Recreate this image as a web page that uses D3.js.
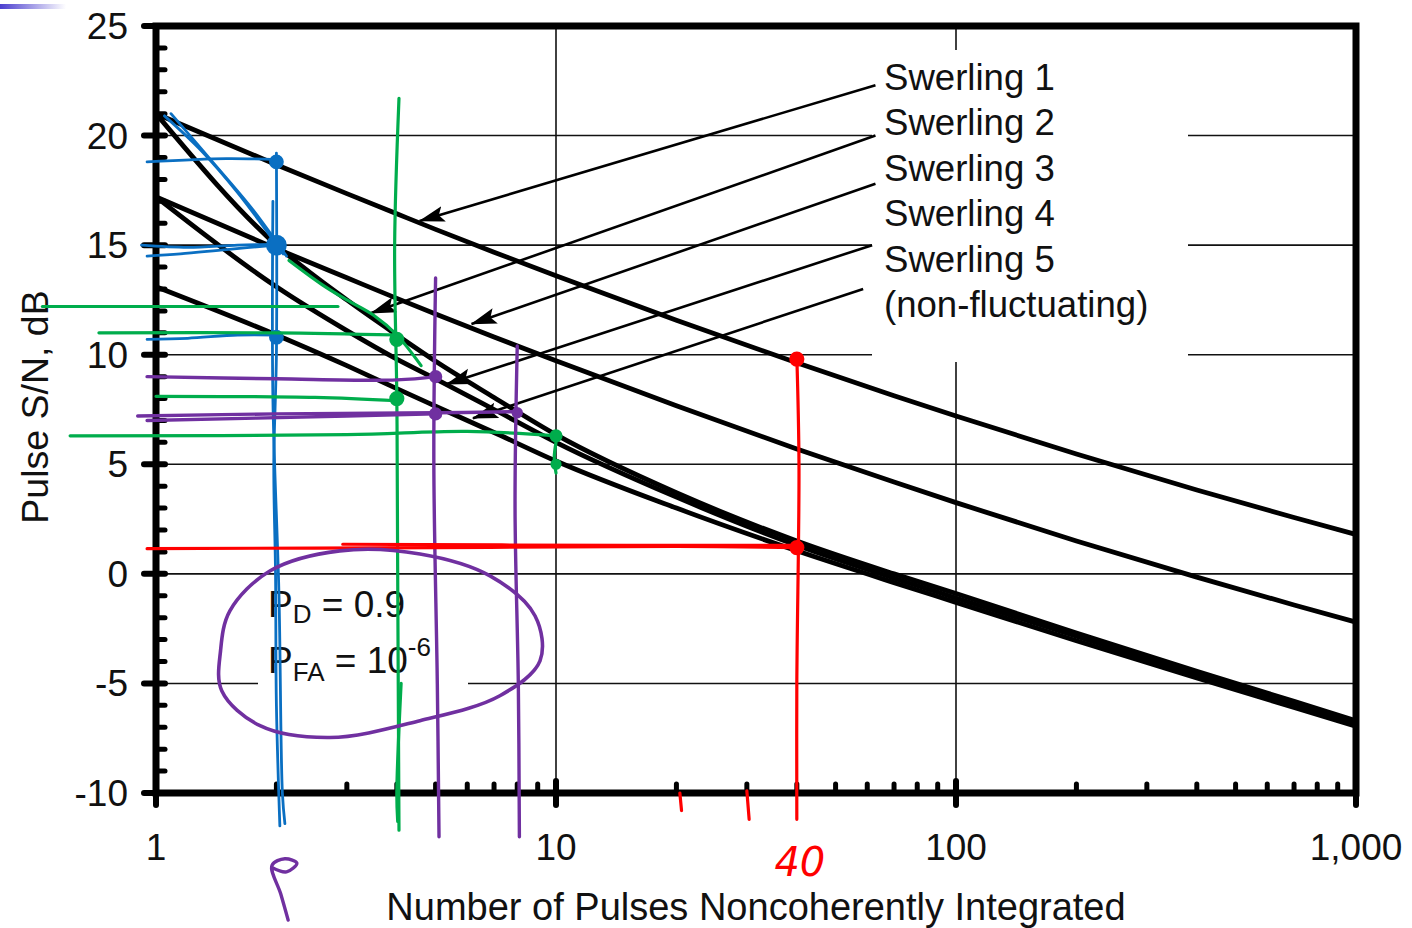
<!DOCTYPE html>
<html>
<head>
<meta charset="utf-8">
<script src="https://cdn.jsdelivr.net/npm/d3@7"></script>
<style>
  body { margin: 0; background: #fff; }
  svg { display: block; font-family: "Liberation Sans", Arial, sans-serif; }
</style>
</head>
<body>
<svg id="chart" width="1412" height="928"></svg>
<script>

    // number of pulses and required pulse S/N (dB)
    const pulses = [1, 2, 3, 4, 5, 7, 10, 20, 40, 70, 100, 200, 400, 700, 1000];
    const swerling1 = [21.0, 18.67, 17.35, 16.43, 15.72, 14.68, 13.6, 11.57, 9.63, 8.13, 7.2, 5.47, 3.83, 2.57, 1.8];
    const swerling2 = [21.0, 15.0, 12.5, 10.9, 9.7, 8.05, 6.35, 3.7, 1.5, 0.0, -0.9, -2.7, -4.45, -5.82, -6.7];
    const swerling3 = [17.2, 14.84, 13.51, 12.57, 11.86, 10.81, 9.72, 7.67, 5.7, 4.19, 3.25, 1.5, -0.15, -1.42, -2.2];
    const swerling4 = [17.2, 13.1, 11.1, 9.8, 8.9, 7.5, 6.0, 3.5, 1.3, -0.2, -1.1, -2.85, -4.6, -5.95, -6.82];
    const swerling5 = [13.1, 10.9, 9.5, 8.45, 7.65, 6.45, 5.15, 3.0, 1.05, -0.4, -1.3, -3.05, -4.75, -6.1, -6.95];

    const yTicks = [-10, -5, 0, 5, 10, 15, 20, 25];
    const xTicks = [1, 10, 100, 1000];
    const legendLabels = ["Swerling 1", "Swerling 2", "Swerling 3", "Swerling 4", "Swerling 5", "(non-fluctuating)"];

    // arrows from the labels to the curves: [N, dB]
    const arrowTails = [[62.9, 22.3], [62.9, 20.0], [62.9, 17.8], [61.7, 15.0], [58.6, 13.0]];
    const arrowTips = [[4.56, 16.1], [3.45, 11.9], [6.15, 11.4], [5.33, 8.66], [6.2, 7.1]];

    // hand drawn marks over the chart, [N, dB]
    const blueStrokes = [
        [[1.05, 20.9], [1.3, 19.3], [1.6, 17.4], [2.08, 14.6]],
        [[1.09, 21.0], [1.4, 18.7], [1.75, 16.6], [2.12, 14.5]],
        [[0.95, 18.8], [1.5, 18.95], [2.0, 18.9]],
        [[0.92, 15.0], [1.2, 14.9], [1.6, 15.0], [2.05, 15.05]],
        [[0.95, 14.5], [1.15, 14.6], [1.5, 14.8], [2.0, 15.0]],
        [[0.95, 10.7], [1.2, 10.75], [1.6, 10.9], [2.0, 10.9]],
        [[2.0, 19.2], [2.0, 10.0], [1.97, 5.0], [1.99, 0.0], [2.0, -6.0], [2.04, -11.5]],
        [[1.96, 17.0], [1.96, 8.0], [2.03, -1.0], [2.07, -10.0], [2.1, -11.4]]
    ];
    const blueDots = [[2, 18.8, 6], [2, 15.0, 9], [2, 10.8, 6]];

    const greenStrokes = [
        [[0.52, 12.2], [1.5, 12.2], [2.85, 12.2]],
        [[2.15, 14.3], [2.6, 13.2], [3.0, 12.5], [3.5, 11.8], [4.0, 10.9], [4.6, 9.5]],
        [[0.72, 11.0], [2.0, 11.0], [4.0, 10.9]],
        [[1.0, 8.1], [2.5, 8.05], [4.0, 7.9]],
        [[0.61, 6.3], [3.0, 6.35], [6.0, 6.5], [10.0, 6.3]],
        [[4.05, 21.7], [3.95, 15.0], [4.0, 8.0], [4.02, 0.0], [4.05, -11.7]],
        [[4.1, -5.0], [4.0, -10.0], [4.02, -11.3]],
        [[10.0, 6.0], [9.9, 5.3], [10.0, 4.6]]
    ];
    const greenDots = [[4, 10.7, 6], [4, 8.0, 6], [10, 6.3, 5], [10, 5.0, 4]];

    const purpleStrokes = [
        [[0.95, 9.0], [2.0, 8.9], [4.0, 8.85], [5.0, 9.0]],
        [[0.9, 7.2], [2.0, 7.3], [5.0, 7.35], [8.0, 7.4]],
        [[0.95, 7.0], [3.0, 7.2], [5.0, 7.3]],
        [[5.0, 13.5], [4.95, 5.0], [5.05, -5.0], [5.1, -12.0]],
        [[8.0, 10.4], [7.9, 3.0], [8.05, -5.0], [8.1, -12.0]],
        [[2.14, -15.8], [2.05, -14.6], [1.95, -13.3], [2.1, -13.0], [2.25, -13.2], [2.12, -13.6], [1.95, -13.4]]
    ];
    const purpleLoop = [[1.53, -1.69], [1.93, 0.14], [2.88, 1.05], [4.57, 0.91], [6.84, -0.09], [8.86, -1.91],
        [9.12, -3.97], [7.24, -5.56], [4.57, -6.7], [2.72, -7.47], [1.82, -6.93], [1.46, -5.33], [1.45, -3.51]];
    const purpleDots = [[5, 9.0, 5], [5, 7.3, 5], [8, 7.35, 4]];

    const redStrokes = [
        [[0.95, 1.15], [5.0, 1.2], [20.0, 1.25], [40.0, 1.2]],
        [[2.93, 1.35], [15.0, 1.3], [40.0, 1.3]],
        [[40.0, 9.9], [40.5, 5.0], [40.0, -5.0], [40.0, -11.2]],
        [[20.4, -10.0], [20.6, -10.8]],
        [[30.0, -9.9], [30.4, -11.2]]
    ];
    const redDots = [[40, 9.8, 6], [40, 1.2, 6]];

    const svg = d3.select("#chart");

    const x = d3.scaleLog().domain([1, 1000]).range([156, 1356]);
    const y = d3.scaleLinear().domain([-10, 25]).range([793, 26]);

    // slide decoration in the top left corner
    const defs = svg.append("defs");
    const grad = defs.append("linearGradient").attr("id", "bar");
    grad.append("stop").attr("offset", "0%").attr("stop-color", "#4b3fcf");
    grad.append("stop").attr("offset", "100%").attr("stop-color", "#ffffff");
    svg.append("rect").attr("x", 0).attr("y", 4).attr("width", 66).attr("height", 5).attr("fill", "url(#bar)");

    const marker = defs.append("marker")
        .attr("id", "head").attr("markerUnits", "userSpaceOnUse")
        .attr("viewBox", "0 -9 26 18").attr("markerWidth", 26).attr("markerHeight", 18)
        .attr("refX", 25).attr("refY", 0).attr("orient", "auto");
    marker.append("path").attr("d", "M0,-8L26,0L0,8L5,0Z").attr("fill", "#000");

    // grid
    const grid = svg.append("g").attr("stroke", "#111").attr("stroke-width", 1.6);
    grid.selectAll(".h").data(yTicks.filter(d => d > -10 && d < 25)).enter().append("line")
        .attr("x1", x(1)).attr("x2", x(1000)).attr("y1", d => y(d)).attr("y2", d => y(d));
    grid.selectAll(".v").data([10, 100]).enter().append("line")
        .attr("x1", d => x(d)).attr("x2", d => x(d)).attr("y1", y(25)).attr("y2", y(-10));

    // white boxes behind the texts
    svg.append("rect").attr("x", 872).attr("y", 50).attr("width", 316).attr("height", 312).attr("fill", "#fff");
    svg.append("rect").attr("x", 258).attr("y", 578).attr("width", 210).attr("height", 115).attr("fill", "#fff");

    // curves
    const curve = d3.line().x((d, i) => x(pulses[i])).y(d => y(d)).curve(d3.curveMonotoneX);
    svg.append("g").attr("fill", "none").attr("stroke", "#000").attr("stroke-width", 4.8)
        .attr("stroke-linejoin", "round")
        .selectAll("path").data([swerling1, swerling2, swerling3, swerling4, swerling5]).enter()
        .append("path").attr("d", curve);

    // arrows
    svg.append("g").selectAll("line").data(arrowTips).enter().append("line")
        .attr("x1", (d, i) => x(arrowTails[i][0])).attr("y1", (d, i) => y(arrowTails[i][1]))
        .attr("x2", d => x(d[0])).attr("y2", d => y(d[1]))
        .attr("stroke", "#000").attr("stroke-width", 2.6).attr("marker-end", "url(#head)");

    // frame and ticks
    const frame = svg.append("g").attr("stroke", "#000").attr("stroke-linecap", "round");
    frame.append("rect").attr("x", x(1)).attr("y", y(25)).attr("width", x(1000) - x(1)).attr("height", y(-10) - y(25))
        .attr("fill", "none").attr("stroke-width", 7).attr("stroke-linecap", "butt");
    frame.selectAll(".ymaj").data(yTicks).enter().append("line")
        .attr("x1", x(1) - 12).attr("x2", x(1) + 9).attr("y1", d => y(d)).attr("y2", d => y(d)).attr("stroke-width", 6);
    frame.selectAll(".ymin").data(d3.range(-9, 25).filter(d => d % 5 !== 0)).enter().append("line")
        .attr("x1", x(1)).attr("x2", x(1) + 9).attr("y1", d => y(d)).attr("y2", d => y(d)).attr("stroke-width", 5);
    frame.selectAll(".xmaj").data(xTicks).enter().append("line")
        .attr("x1", d => x(d)).attr("x2", d => x(d)).attr("y1", y(-10) - 12).attr("y2", y(-10) + 12).attr("stroke-width", 6);
    const minors = [];
    [1, 10, 100].forEach(dec => d3.range(2, 10).forEach(k => minors.push(dec * k)));
    frame.selectAll(".xmin").data(minors).enter().append("line")
        .attr("x1", d => x(d)).attr("x2", d => x(d)).attr("y1", y(-10)).attr("y2", y(-10) - 9).attr("stroke-width", 5);

    // tick labels
    svg.append("g").attr("font-size", 37).attr("fill", "#111").attr("text-anchor", "end")
        .selectAll("text").data(yTicks).enter().append("text")
        .attr("x", 128).attr("y", d => y(d) + 13).text(d => d);
    svg.append("g").attr("font-size", 37).attr("fill", "#111").attr("text-anchor", "middle")
        .selectAll("text").data(xTicks).enter().append("text")
        .attr("x", d => x(d)).attr("y", 860).text(d3.format(","));

    // axis titles
    svg.append("text").attr("x", 756).attr("y", 920).attr("text-anchor", "middle")
        .attr("font-size", 38).attr("fill", "#111").text("Number of Pulses Noncoherently Integrated");
    svg.append("text").attr("transform", "translate(48,407) rotate(-90)").attr("text-anchor", "middle")
        .attr("font-size", 37.5).attr("fill", "#111").text("Pulse S/N, dB");

    // curve labels
    svg.append("g").attr("font-size", 36.6).attr("fill", "#111")
        .selectAll("text").data(legendLabels).enter().append("text")
        .attr("x", 884).attr("y", (d, i) => 90 + i * 45.4).text(d => d);

    // P_D and P_FA
    const pd = svg.append("text").attr("x", 268).attr("y", 617).attr("font-size", 37).attr("fill", "#111");
    pd.append("tspan").text("P");
    pd.append("tspan").attr("font-size", 26).attr("dy", 6).text("D");
    pd.append("tspan").attr("dy", -6).text(" = 0.9");
    const pfa = svg.append("text").attr("x", 268).attr("y", 673).attr("font-size", 37).attr("fill", "#111");
    pfa.append("tspan").text("P");
    pfa.append("tspan").attr("font-size", 26).attr("dy", 8).text("FA");
    pfa.append("tspan").attr("dy", -8).text(" = 10");
    pfa.append("tspan").attr("font-size", 26).attr("dy", -17).text("-6");

    // hand drawn annotations
    const pen = d3.line().x(d => x(d[0])).y(d => y(d[1])).curve(d3.curveCatmullRom);
    const ink = svg.append("g").attr("fill", "none").attr("stroke-linecap", "round").attr("stroke-linejoin", "round");

    function drawInk(strokes, dots, color, width) {
        const g = ink.append("g").attr("stroke", color).attr("stroke-width", width);
        g.selectAll("path").data(strokes).enter().append("path").attr("d", pen);
        g.selectAll("circle").data(dots).enter().append("circle")
            .attr("cx", d => x(d[0])).attr("cy", d => y(d[1])).attr("r", d => d[2]).attr("fill", color);
    }
    drawInk(blueStrokes, blueDots, "#0a6fc2", 2.8);
    drawInk(greenStrokes, greenDots, "#00ad4c", 3.2);
    drawInk(purpleStrokes, purpleDots, "#7030a0", 3.4);
    drawInk(redStrokes, redDots, "#ff0000", 3.2);

    ink.append("path").datum(purpleLoop)
        .attr("d", d3.line().x(d => x(d[0])).y(d => y(d[1])).curve(d3.curveCatmullRomClosed))
        .attr("stroke", "#7030a0").attr("stroke-width", 3.6);

    svg.append("text").attr("x", x(40.7)).attr("y", y(-13.8)).attr("text-anchor", "middle")
        .attr("font-size", 40).attr("font-style", "italic").attr("fill", "#ff0000")
        .attr("font-family", "DejaVu Sans").attr("font-weight", 200).text("40");

</script>
</body>
</html>
